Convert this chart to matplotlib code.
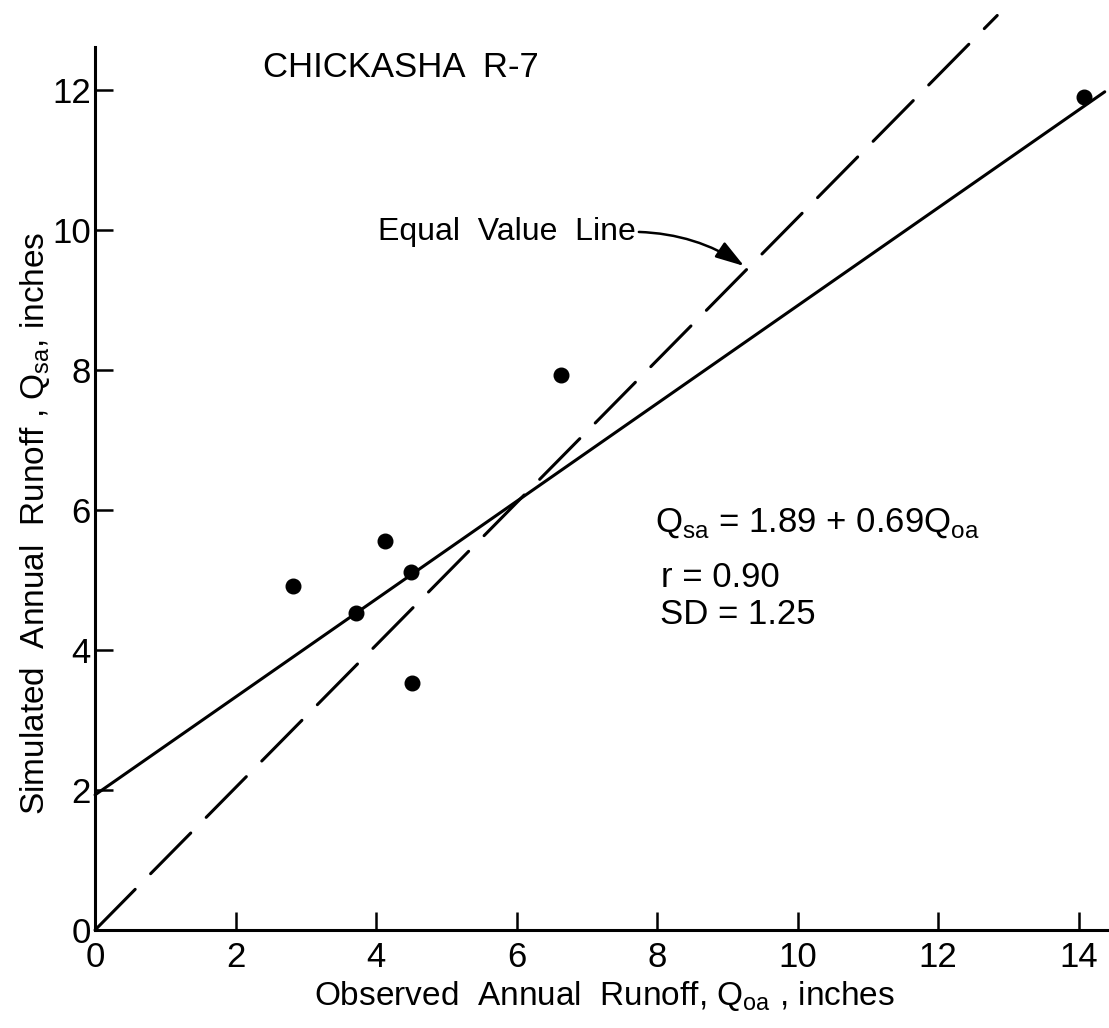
"""Observed vs simulated annual runoff, Chickasha R-7."""

import matplotlib

matplotlib.use("Agg")
import matplotlib.pyplot as plt

# observed / simulated annual runoff (inches)
OBSERVED = [2.82, 3.71, 4.13, 4.49, 4.51, 6.63, 14.07]
SIMULATED = [4.91, 4.53, 5.56, 5.11, 3.53, 7.93, 11.90]

# regression line end points as drawn, and the (hand drawn) equal value line
REG_X = [0.0, 14.37]
REG_Y = [1.93, 11.97]
EQUAL_X = [0.0, 12.84]
EQUAL_Y = [0.0, 13.06]

X_TICKS = [0, 2, 4, 6, 8, 10, 12, 14]
Y_TICKS = [0, 2, 4, 6, 8, 10, 12]

FONT = ["Liberation Sans", "DejaVu Sans"]
INK = "black"


def main():
    plt.rcParams["font.family"] = FONT
    plt.rcParams["mathtext.fontset"] = "custom"
    plt.rcParams["mathtext.rm"] = "Liberation Sans"

    fig = plt.figure(figsize=(11.09, 10.28), dpi=100)
    fig.patch.set_facecolor("white")
    ax = fig.add_axes([0.0857, 0.0953, 0.913, 0.859])
    ax.set_xlim(0, 14.41)
    ax.set_ylim(0, 12.61)

    for side in ("top", "right"):
        ax.spines[side].set_visible(False)
    for side in ("left", "bottom"):
        ax.spines[side].set_linewidth(2.2)
        ax.spines[side].set_color(INK)

    ax.set_xticks(X_TICKS)
    ax.set_yticks(Y_TICKS)
    ax.tick_params(axis="both", direction="in", length=13, width=1.8,
                   labelsize=25, colors=INK)
    ax.tick_params(axis="x", pad=8)
    ax.tick_params(axis="y", pad=3)

    # regression line and equal value line
    ax.plot(REG_X, REG_Y, color=INK, lw=2.2, solid_capstyle="round", clip_on=False)
    dash, = ax.plot(EQUAL_X, EQUAL_Y, color=INK, lw=2.2, clip_on=False,
                    dash_capstyle="round")
    dash.set_dashes((18.7, 7.2))

    ax.plot(OBSERVED, SIMULATED, "o", color=INK, ms=10.5, clip_on=False, zorder=5)

    ax.text(2.39, 12.31, "CHICKASHA  R-7", fontsize=25, va="center", ha="left")
    ax.text(4.03, 9.97, "Equal  Value  Line", fontsize=23, va="center", ha="left")
    ax.annotate("", xy=(9.27, 9.46), xytext=(7.7, 9.97),
                arrowprops=dict(arrowstyle="-|>,head_length=0.8,head_width=0.25",
                                color=INK, lw=1.8, mutation_scale=22,
                                connectionstyle="arc3,rad=-0.15"))

    ax.text(7.97, 5.81, r"Q$_{\mathrm{sa}}$ = 1.89 + 0.69Q$_{\mathrm{oa}}$",
            fontsize=25, va="center", ha="left")
    ax.text(8.06, 5.03, "r = 0.90", fontsize=25, va="center", ha="left")
    ax.text(8.04, 4.50, "SD = 1.25", fontsize=25, va="center", ha="left")

    ax.set_xlabel(r"Observed  Annual  Runoff, Q$_{\mathrm{oa}}$ , inches", fontsize=24)
    ax.xaxis.set_label_coords(0.503, -0.056)
    ax.set_ylabel(r"Simulated  Annual  Runoff , Q$_{\mathrm{sa}}$, inches", fontsize=24)
    ax.yaxis.set_label_coords(-0.043, 0.46)

    fig.savefig("out.png", dpi=100, facecolor=fig.get_facecolor())
    plt.close(fig)


if __name__ == "__main__":
    main()
